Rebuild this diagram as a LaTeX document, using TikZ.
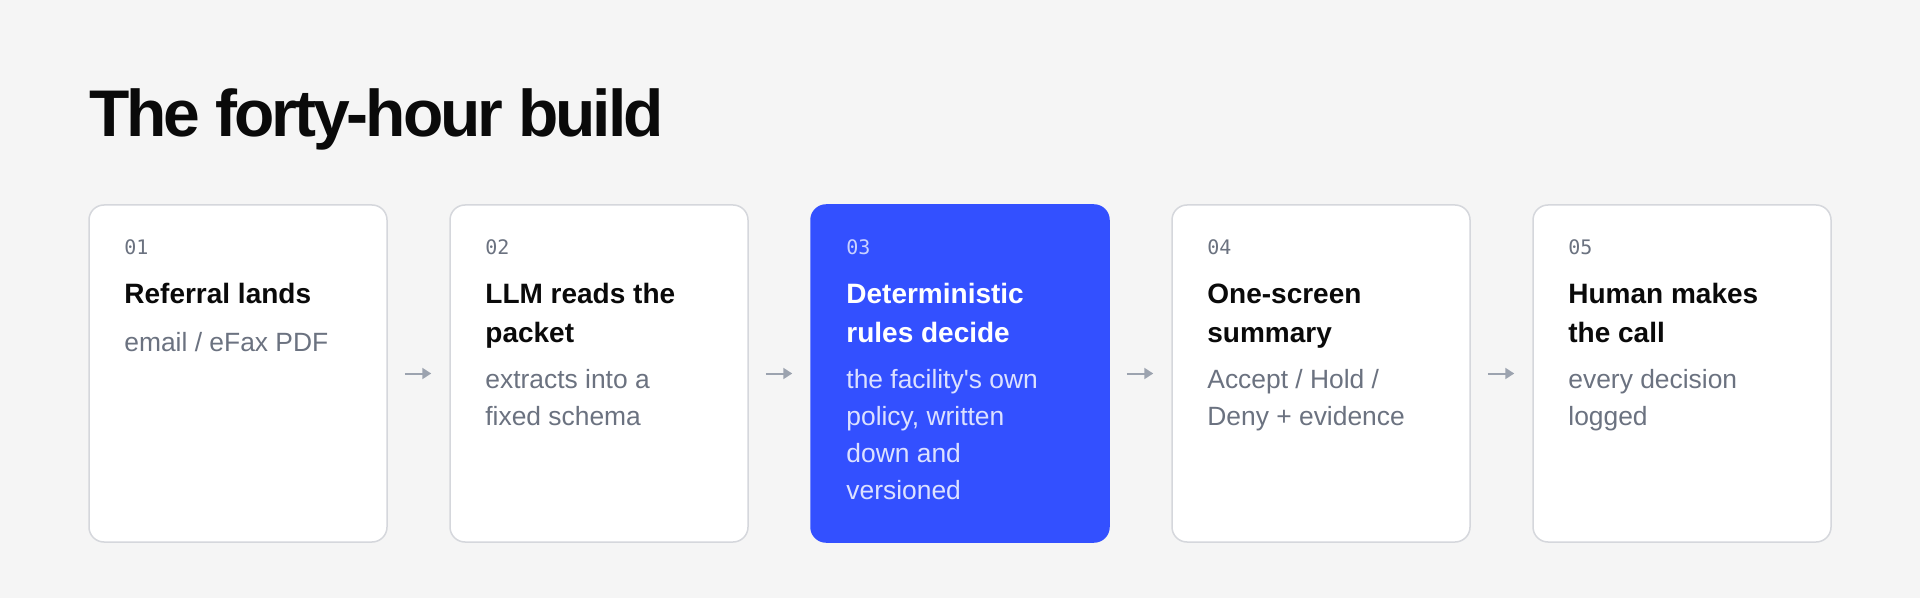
\documentclass[tikz,border=0pt]{standalone}
\usepackage{fontspec}
\setmainfont{Liberation Sans}
\setmonofont{DejaVu Sans Mono}
\newfontfamily\headfont{Liberation Sans}[LetterSpace=-4.7]
\usetikzlibrary{arrows.meta}

\definecolor{pagebg}{HTML}{F5F5F5}
\definecolor{cardline}{HTML}{D5D7DC}
\definecolor{hotblue}{HTML}{3350FF}
\definecolor{numgray}{HTML}{6B7280}
\definecolor{descgray}{HTML}{6B7280}
\definecolor{inkblack}{HTML}{0A0A0A}
\definecolor{arrowgray}{HTML}{9CA3AF}
\definecolor{hotnum}{HTML}{C9D1FF}
\definecolor{hotdesc}{HTML}{DCE1FF}

\newcommand{\steplines}[1]{\begin{tabular}[t]{@{}l@{}}#1\end{tabular}}

\tikzset{
    card/.style={draw=cardline, line width=0.75pt, fill=white, rounded corners=7.5pt,
        minimum width=149pt, minimum height=168.5pt, inner sep=0pt},
    hotcard/.style={card, draw=hotblue, fill=hotblue},
    stepnum/.style={anchor=base west, inner sep=0pt, text=numgray,
        font=\ttfamily\fontsize{10}{12}\selectfont},
    stephead/.style={anchor=base west, inner sep=0pt, text=inkblack,
        font=\bfseries\fontsize{14}{19.5}\selectfont},
    stepdesc/.style={anchor=base west, inner sep=0pt, text=descgray,
        font=\fontsize{13.2}{18.5}\selectfont},
    flow/.style={-{Triangle[length=4.5pt,width=5.5pt]}, line width=1pt, draw=arrowgray,
        shorten <=8.5pt, shorten >=9pt}
}

\begin{document}
\begin{tikzpicture}[x=0.5pt, y=-0.5pt]
    \fill [pagebg] (0,0) rectangle (1920,598);
    \useasboundingbox (0,0) rectangle (1920,598);

    \node (title) at (89,137) [anchor=base west, inner sep=0pt, text=inkblack,
        font=\headfont\bfseries\fontsize{33}{40}\selectfont] {The forty-hour build};

    \node (c1) at (238,373.5) [card] {};
    \node (c2) at (599,373.5) [card] {};
    \node (c3) at (960,373.5) [hotcard] {};
    \node (c4) at (1321,373.5) [card] {};
    \node (c5) at (1682,373.5) [card] {};

    \path
        (c1.east) edge [flow] (c2.west)
        (c2.east) edge [flow] (c3.west)
        (c3.east) edge [flow] (c4.west)
        (c4.east) edge [flow] (c5.west)
    ;

    \node (n1) at (124,255) [stepnum] {01};
    \node (h1) at (124,304) [stephead] {Referral lands};
    \node (d1) at (124,351) [stepdesc] {email / eFax PDF};

    \node (n2) at (485,255) [stepnum] {02};
    \node (h2) at (485,304) [stephead] {\steplines{LLM reads the\\packet}};
    \node (d2) at (485,388) [stepdesc] {\steplines{extracts into a\\fixed schema}};

    \node (n3) at (846,255) [stepnum, text=hotnum] {03};
    \node (h3) at (846,304) [stephead, text=white] {\steplines{Deterministic\\rules decide}};
    \node (d3) at (846,388) [stepdesc, text=hotdesc] {\steplines{the facility\textquotesingle s own\\policy, written\\down and\\versioned}};

    \node (n4) at (1207,255) [stepnum] {04};
    \node (h4) at (1207,304) [stephead] {\steplines{One-screen\\summary}};
    \node (d4) at (1207,388) [stepdesc] {\steplines{Accept / Hold /\\Deny + evidence}};

    \node (n5) at (1568,255) [stepnum] {05};
    \node (h5) at (1568,304) [stephead] {\steplines{Human makes\\the call}};
    \node (d5) at (1568,388) [stepdesc] {\steplines{every decision\\logged}};
\end{tikzpicture}
\end{document}
